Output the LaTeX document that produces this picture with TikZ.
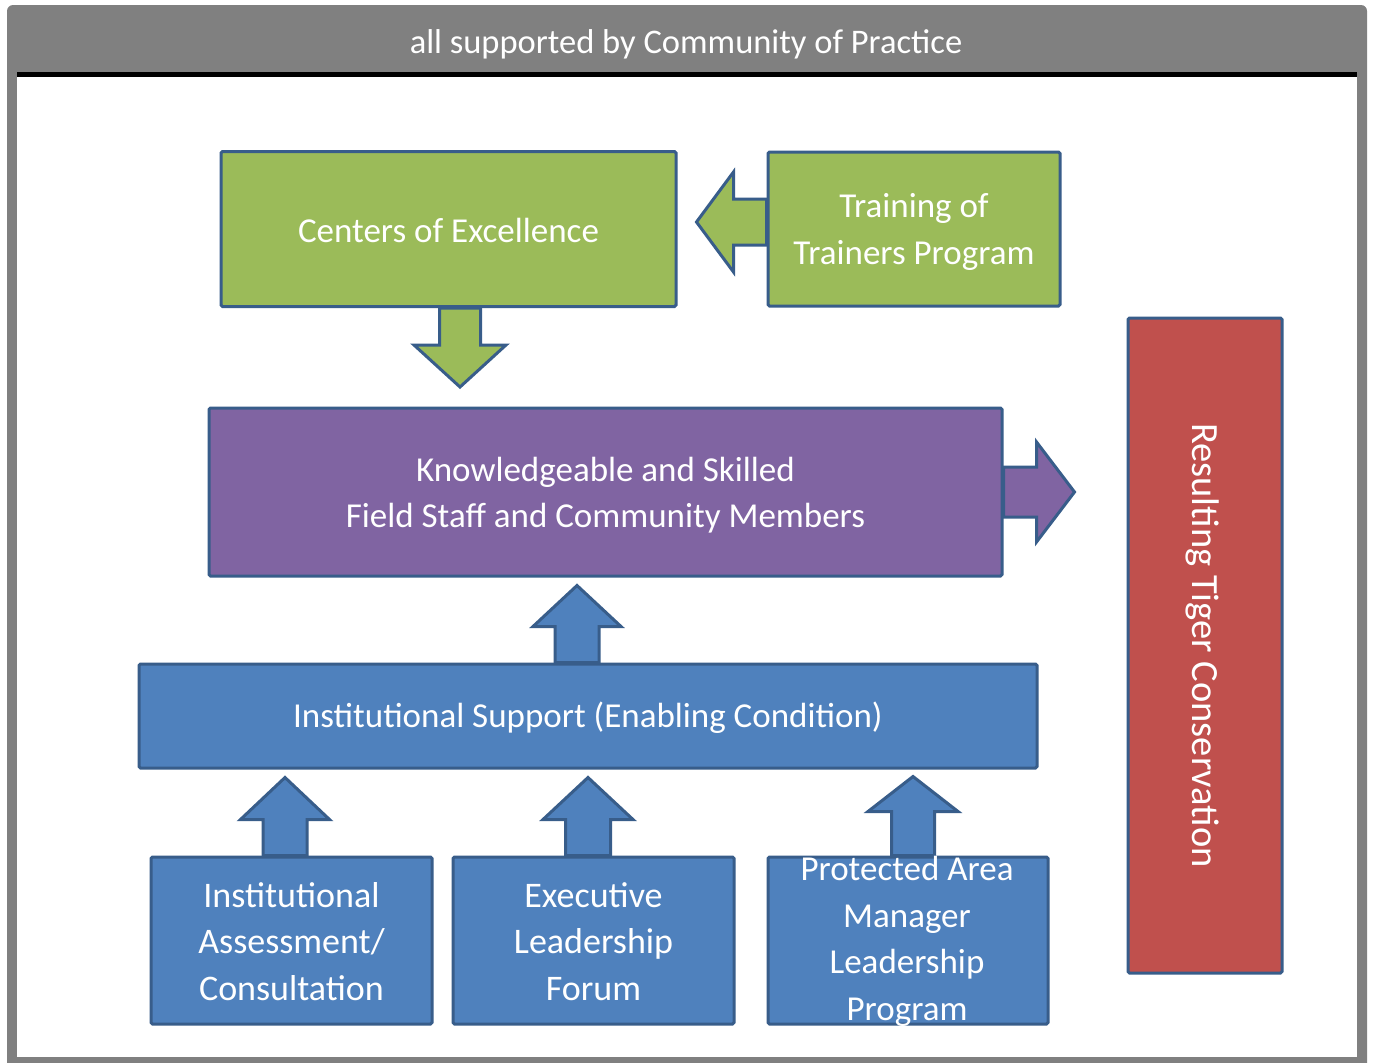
\documentclass[tikz,border=0pt]{standalone}
\usepackage{fontspec}
\setmainfont{Carlito}
\usetikzlibrary{calc}

\definecolor{framegray}{HTML}{808080}
\definecolor{edgeblue}{HTML}{385D8A}
\definecolor{leafgreen}{HTML}{9BBB59}
\definecolor{plum}{HTML}{8064A2}
\definecolor{steelblue}{HTML}{4F81BD}
\definecolor{brick}{HTML}{C0504D}

\pgfdeclarelayer{frame}
\pgfdeclarelayer{arrows}
\pgfsetlayers{frame,arrows,main}

% vertical block arrow: style, base, shaft half-width, head half-width, shaft length, head length
\newcommand{\vblock}[6]{%
  \draw[#1] (#2) ++(-#3,0) -- ++(0,#5) -- ++(-#4+#3,0) -- ++(#4,#6)
    -- ++(#4,-#6) -- ++(-#4+#3,0) -- ++(0,-#5) -- cycle;}
% horizontal block arrow: same arguments
\newcommand{\hblock}[6]{%
  \draw[#1] (#2) ++(0,-#3) -- ++(#5,0) -- ++(0,-#4+#3) -- ++(#6,#4)
    -- ++(-#6,#4) -- ++(0,-#4+#3) -- ++(-#5,0) -- cycle;}

\tikzset{
  box/.style={draw=edgeblue, line width=3pt, rounded corners=1.5pt, inner sep=0pt,
    align=center, text=white, font=\fontsize{35}{46.5}\selectfont},
  greenbox/.style={box, fill=leafgreen},
  plumbox/.style={box, fill=plum},
  bluebox/.style={box, fill=steelblue},
  redbox/.style={box, fill=brick},
  blocktext/.style={text=white, align=center, inner sep=0pt, font=\fontsize{35}{46.5}\selectfont},
  greenarrow/.style={draw=edgeblue, line width=3pt, fill=leafgreen, line join=miter},
  plumarrow/.style={draw=edgeblue, line width=3pt, fill=plum, line join=miter},
  bluearrow/.style={draw=edgeblue, line width=3pt, fill=steelblue, line join=miter},
}

\begin{document}
\begin{tikzpicture}[x=1pt, y=-1pt]
  \useasboundingbox (0,0) rectangle (1374,1063);

  % outer frame with title bar
  \begin{pgfonlayer}{frame}
    \fill[framegray, rounded corners=6pt] (7,5) rectangle (1367,1070);
    \fill[white] (17,77) rectangle (1357,1057);
    \fill[black] (17,72) rectangle (1357,77);
  \end{pgfonlayer}
  \node[text=white, font=\fontsize{34.5}{40}\selectfont] (title) at (686,44)
    {all supported by Community of Practice};

  % boxes
  \node[greenbox, minimum width=455, minimum height=155] (coe) at (448.5,229) {};
  \node[greenbox, minimum width=292, minimum height=154] (tot) at (914,229) {};
  \node[plumbox, minimum width=793, minimum height=168] (staff) at (605.5,492) {};
  \node[bluebox, minimum width=898, minimum height=104] (inst) at (588,716) {};
  \node[bluebox, minimum width=281, minimum height=167] (assess) at (291.5,940.5) {};
  \node[bluebox, minimum width=281, minimum height=167] (forum) at (593.5,940.5) {};
  \node[bluebox, minimum width=280, minimum height=167] (pam) at (908,940.5) {};
  \node[redbox, rotate=-90, minimum width=655, minimum height=154] (result) at (1205,645.5) {};

  % box texts
  \node[blocktext] at ($(coe)+(0,1)$) {Centers of Excellence};
  \node[blocktext] at ($(tot)+(0,3)$) {Training of\\Trainers Program};
  \node[blocktext] at ($(staff)+(0,3)$) {Knowledgeable and Skilled\\Field Staff and Community Members};
  \node[blocktext] at ($(inst)+(0,2)$) {Institutional Support (Enabling Condition)};
  \node[blocktext, font=\fontsize{36}{46.5}\selectfont] at ($(assess)+(0,1)$)
    {Institutional\\Assessment/\\Consultation};
  \node[blocktext, font=\fontsize{36}{46.5}\selectfont] at ($(forum)+(0,1)$)
    {Executive\\Leadership\\Forum};
  \node[blocktext] at ($(pam)+(-1,1)$) {Protected Area\\Manager\\Leadership\\Program};
  \node[blocktext, rotate=-90, font=\fontsize{38.5}{46}\selectfont] at ($(result)+(-2,0)$)
    {Resulting Tiger Conservation};

  % block arrows, kept beneath the boxes they leave
  \begin{pgfonlayer}{arrows}
    \hblock{greenarrow}{tot.west |- 0,222}{23}{50}{-33}{-37}
    \vblock{greenarrow}{coe.south -| 460,0}{20.5}{46}{37}{42}
    \hblock{plumarrow}{staff.east |- 0,492}{25}{50}{33}{38}
    \vblock{bluearrow}{inst.north -| 577,0}{22}{44}{-36}{-41}
    \vblock{bluearrow}{assess.north -| 285,0}{22}{44.5}{-36}{-42}
    \vblock{bluearrow}{forum.north -| 588,0}{22.5}{45}{-36}{-42}
    \vblock{bluearrow}{pam.north -| 913,0}{21.5}{45}{-44}{-35}
  \end{pgfonlayer}
\end{tikzpicture}
\end{document}
